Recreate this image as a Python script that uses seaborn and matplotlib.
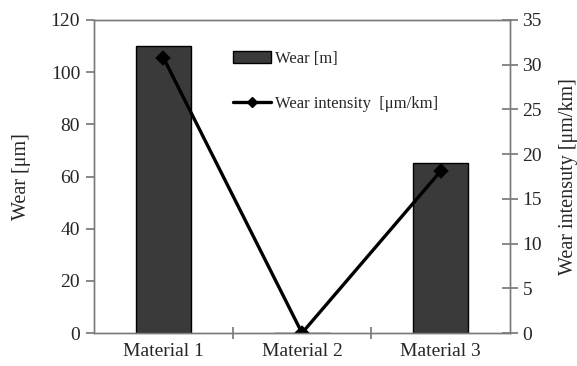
import matplotlib
matplotlib.use("Agg")
import matplotlib.pyplot as plt
import seaborn as sns
import pandas as pd
from matplotlib.patches import Patch
from matplotlib.lines import Line2D

materials = ["Material 1", "Material 2", "Material 3"]
wear_um = [110, 0, 65]
wear_intensity = [30.8, 0, 18.1]

sns.set_theme(style="white")
plt.rcParams["font.family"] = ["Liberation Serif", "DejaVu Serif"]

df = pd.DataFrame({"Material": materials, "Wear": wear_um, "Intensity": wear_intensity})

fig = plt.figure(figsize=(5.77, 3.66), dpi=100)
ax = fig.add_axes([94/577, 1-333/366, (510-94)/577, (333-20)/366])

sns.barplot(data=df, x="Material", y="Wear", ax=ax, color="#3a3a3a",
            edgecolor="black", linewidth=1.0, width=0.4, saturation=1)
ax.set_ylim(0, 120)
ax.set_yticks(range(0, 121, 20))
ax.set_xlim(-0.5, 2.5)
ax.set_ylabel("Wear [μm]", fontsize=14.5, labelpad=14)
ax.set_xlabel("")

ax2 = ax.twinx()
sns.pointplot(data=df, x="Material", y="Intensity", ax=ax2, color="black",
              markers="D", linestyles="-", markersize=6, linewidth=2.4)
ax2.set_ylim(0, 35)
ax2.set_yticks(range(0, 36, 5))
ax2.set_xlim(-0.5, 2.5)
ax2.set_ylabel("Wear intensuty [μm/km]", fontsize=14.5, labelpad=12)
ax2.set_xlabel("")

spine_color = "#7a7a7a"
for a in (ax, ax2):
    for s in a.spines.values():
        s.set_color(spine_color)
        s.set_linewidth(1.0)
        s.set_zorder(5)

ax.set_xticks([0.5, 1.5], minor=False)
ax.set_xticks([0, 1, 2], minor=True)
ax.set_xticklabels([], minor=False)
ax.set_xticklabels(materials, minor=True, fontsize=14)
ax.tick_params(axis="x", which="major", direction="inout", length=9, color=spine_color, bottom=True)
ax.tick_params(axis="x", which="minor", length=0, pad=7, bottom=True)
ax.tick_params(axis="y", direction="out", length=6, color=spine_color, labelsize=14, left=True, pad=4)
ax2.tick_params(axis="y", direction="inout", length=12, color=spine_color, labelsize=14, right=True, pad=3)

handles = [Patch(facecolor="#3a3a3a", edgecolor="black", linewidth=1.0),
           Line2D([0], [0], color="black", lw=2.4, marker="D", markersize=5.5)]
ax.legend(handles, ["Wear [m]", "Wear intensity  [μm/km]"], loc="upper left",
          bbox_to_anchor=(0.298, 0.95), frameon=False, fontsize=12,
          labelspacing=1.75, handlelength=2.3, handletextpad=0.25)

fig.savefig("out.png", dpi=100)
